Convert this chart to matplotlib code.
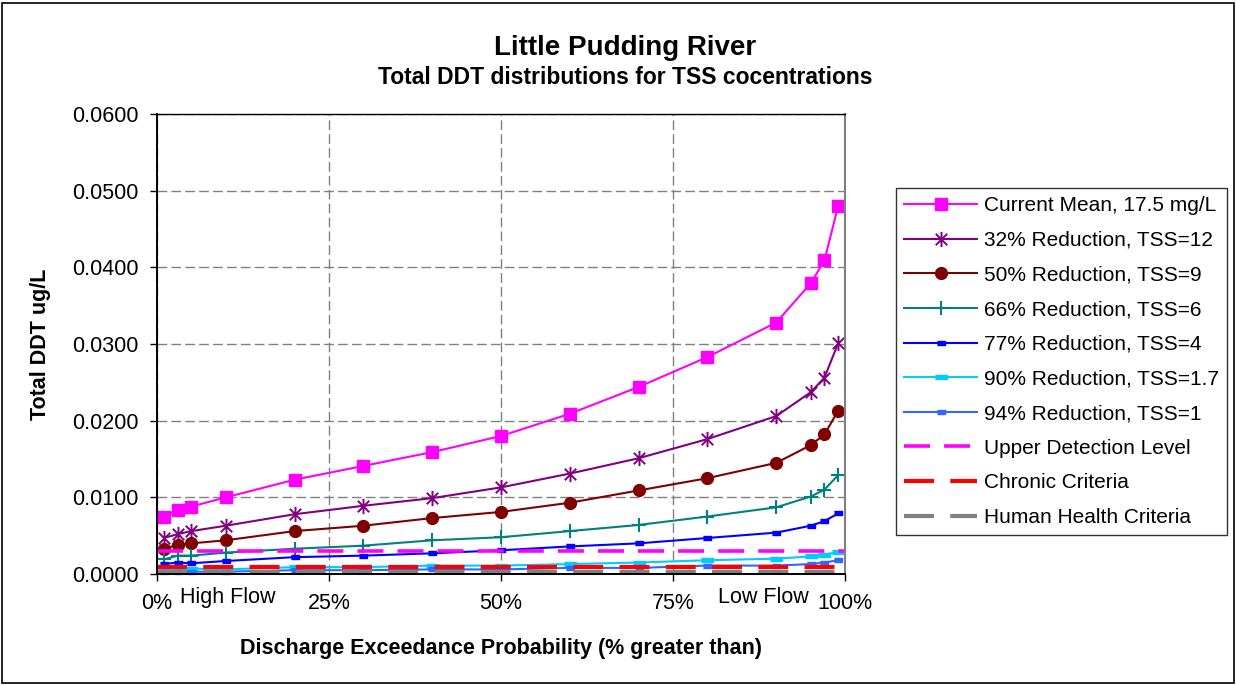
# -*- coding: utf-8 -*-
"""Little Pudding River - Total DDT Verteilungen fuer TSS Konzentrationen"""
import matplotlib
matplotlib.use("Agg")
import matplotlib.pyplot as plt
import matplotlib.transforms as mtransforms
from matplotlib.path import Path
from matplotlib.ticker import FuncFormatter, MultipleLocator

## Daten
pct = [1, 3, 5, 10, 20, 30, 40, 50, 60, 70, 80, 90, 95, 97, 99]
current_mean = [0.0075, 0.0084, 0.0088, 0.0100, 0.0123, 0.0141, 0.0159, 0.0180,
                0.0209, 0.0244, 0.0283, 0.0328, 0.0379, 0.0409, 0.0480]
red_32 = [0.0047, 0.0052, 0.0056, 0.0063, 0.0078, 0.0089, 0.0099, 0.0113,
          0.0131, 0.0151, 0.0176, 0.0206, 0.0237, 0.0256, 0.0301]
red_50 = [0.0033, 0.0038, 0.0040, 0.0044, 0.0056, 0.0063, 0.0073, 0.0081,
          0.0093, 0.0109, 0.0125, 0.0145, 0.0168, 0.0182, 0.0213]
red_66 = [0.0019, 0.0024, 0.0024, 0.0028, 0.0033, 0.0037, 0.0044, 0.0048,
          0.0056, 0.0064, 0.0075, 0.0087, 0.0101, 0.0110, 0.0129]
red_77 = [0.0013, 0.0015, 0.0014, 0.0017, 0.0022, 0.0024, 0.0027, 0.0031,
          0.0036, 0.0040, 0.0047, 0.0054, 0.0063, 0.0069, 0.0079]
red_90 = [0.0006, 0.0006, 0.0007, 0.0006, 0.0009, 0.0009, 0.0011, 0.0011,
          0.0013, 0.0015, 0.0018, 0.0020, 0.0023, 0.0025, 0.0029]
red_94 = [0.0003, 0.0003, 0.0003, 0.0003, 0.0005, 0.0005, 0.0006, 0.0006,
          0.0008, 0.0008, 0.0011, 0.0011, 0.0013, 0.0015, 0.0018]

series_labels = ["Current Mean, 17.5 mg/L", "32% Reduction, TSS=12", "50% Reduction, TSS=9",
                 "66% Reduction, TSS=6", "77% Reduction, TSS=4", "90% Reduction, TSS=1.7",
                 "94% Reduction, TSS=1"]

# Grenzwerte
level_x = [0, 100]
upper_detection = 0.003
chronic_criteria = 0.00095
human_health = 0.00025
level_labels = ["Upper Detection Level", "Chronic Criteria", "Human Health Criteria"]

x_ticks = [0, 25, 50, 75, 100]

## Plot Optionen
matplotlib.rcParams.update({'font.family': ['Liberation Sans', 'DejaVu Sans'], 'font.size': 15.5})
bar = [(-1, -0.4), (1, -0.4), (1, 0.4), (-1, 0.4)]
# Excel-Stern: senkrechter Strich plus X
asterisk = Path([(0, -1), (0, 1), (-0.75, -0.75), (0.75, 0.75), (-0.75, 0.75), (0.75, -0.75)],
                [Path.MOVETO, Path.LINETO, Path.MOVETO, Path.LINETO, Path.MOVETO, Path.LINETO])
styles = [
    dict(color="#FF00FF", marker="s", ms=8),
    dict(color="#800080", marker=asterisk, ms=11, mew=1.4),
    dict(color="#800000", marker="o", ms=8.5),
    dict(color="#008080", marker="+", ms=10, mew=1.5),
    dict(color="#0000FF", marker=bar, ms=6),
    dict(color="#00CCFF", marker=bar, ms=8),
    dict(color="#3366FF", marker=bar, ms=6),
]
series = [current_mean, red_32, red_50, red_66, red_77, red_90, red_94]

fig = plt.figure(figsize=(12.36, 6.85), dpi=100)
ax1 = fig.add_axes([0.127, 0.162, 0.5567, 0.6716])

for ii, values in enumerate(series):
    ax1.plot(pct, values, linewidth=1.5, label=series_labels[ii], clip_on=False, **styles[ii])

dash = (7.2, 3.9)
ax1.plot(level_x, [upper_detection] * 2, color="#FF00FF", linewidth=2.6, dashes=dash, label=level_labels[0])
ax1.plot(level_x, [chronic_criteria] * 2, color="#FF0000", linewidth=3.0, dashes=dash, label=level_labels[1])
ax1.plot(level_x, [human_health] * 2, color="#808080", linewidth=3.0, dashes=dash, label=level_labels[2])

ax1.set_xlim([0, 100])
ax1.set_ylim([0, 0.06])
ax1.set_xticks(x_ticks)
ax1.xaxis.set_major_formatter(FuncFormatter(lambda v, p: "%d%%" % v))
ax1.yaxis.set_major_locator(MultipleLocator(0.01))
ax1.yaxis.set_major_formatter(FuncFormatter(lambda v, p: "%.4f" % v))
ax1.tick_params(axis='both', direction='out', length=5, width=1, colors='black')
ax1.tick_params(axis='x', pad=9)
ax1.tick_params(axis='y', pad=8)
ax1.grid(True, color="#808080", linestyle=(0, (7, 3)), linewidth=1)
ax1.set_axisbelow(True)
for side in ["left", "bottom", "top"]:
    ax1.spines[side].set_color("black")
ax1.spines["left"].set_linewidth(1.4)
ax1.spines["bottom"].set_linewidth(1.4)
ax1.spines["top"].set_linewidth(1.0)
ax1.spines["right"].set_color("#808080")
ax1.spines["right"].set_linewidth(1.5)

ax1.set_xlabel("Discharge Exceedance Probability (% greater than)", fontweight="bold", labelpad=17)
ax1.set_ylabel("Total DDT ug/L", fontweight="bold", labelpad=15)

trans = mtransforms.blended_transform_factory(ax1.transData, ax1.transAxes)
ax1.text(3.3, -0.064, "High Flow", transform=trans, ha="left", va="baseline")
ax1.text(81.5, -0.064, "Low Flow", transform=trans, ha="left", va="baseline")

fig.text(0.5057, 0.9197, "Little Pudding River", ha="center", va="baseline", fontsize=20, fontweight="bold")
fig.text(0.5057, 0.8775, "Total DDT distributions for TSS cocentrations", ha="center", va="baseline",
         fontsize=16.5, fontweight="bold")

leg = ax1.legend(loc="upper left", bbox_to_anchor=(0.725, 0.7255), bbox_transform=fig.transFigure,
                 fontsize=15, frameon=True, fancybox=False, borderaxespad=0, handlelength=3.5,
                 handletextpad=0.3, labelspacing=0.75, borderpad=0.4)
leg.get_frame().set_edgecolor("black")
leg.get_frame().set_linewidth(1.0)

# Rahmen um die ganze Grafik
fig.patches.append(plt.Rectangle((0.002, 0.003), 0.996, 0.992, transform=fig.transFigure,
                                 fill=False, edgecolor="black", linewidth=1.2))

plt.savefig("out.png", dpi=100)
